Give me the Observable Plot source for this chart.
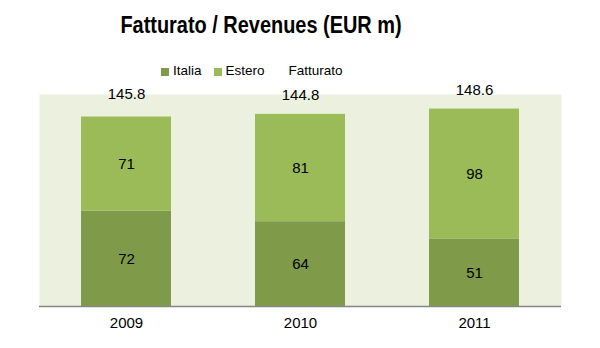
<!DOCTYPE html>
<html>
<head>
<meta charset="utf-8">
<script src="https://cdn.jsdelivr.net/npm/d3@7"></script>
<script src="https://cdn.jsdelivr.net/npm/@observablehq/plot@0.6"></script>
<style>
  html, body { margin: 0; padding: 0; background: #fff; }
  #wrap { position: relative; width: 600px; height: 348px; font-family: "Liberation Sans", Arial, sans-serif; }
  #title { position: absolute; left: -39px; top: 13px; width: 600px; text-align: center; font-family: "Liberation Sans", Arial, sans-serif; font-weight: bold; font-size: 24px; line-height: 24px; color: #000; transform: scaleX(0.83); transform-origin: 300px 0; }
  #legend { position: absolute; left: 161px; top: 64px; display: flex; gap: 12px; font-size: 13.5px; line-height: 14px; color: #000; }
  #legend .item { display: flex; align-items: center; gap: 4px; }
  #legend .sw { width: 8px; height: 8px; margin-top: 1px; }
  #chart { position: absolute; left: 0; top: 78px; }
</style>
</head>
<body>
<div id="wrap">
  <div id="title">Fatturato / Revenues (EUR m)</div>
  <div id="legend"></div>
  <div id="chart"></div>
</div>
<script>
const years = ["2009", "2010", "2011"];
const italia = [72, 64, 51];
const estero = [71, 81, 98];
const fatturato = [145.8, 144.8, 148.6];
const seriesNames = ["Italia", "Estero", "Fatturato"];
const seriesColors = ["#7F9A48", "#9BBB59", "transparent"];

const rows = [
  ...years.map((y, i) => ({year: y, serie: "Italia", value: italia[i]})),
  ...years.map((y, i) => ({year: y, serie: "Estero", value: estero[i]}))
];
const totals = years.map((y, i) => ({year: y, total: fatturato[i]}));

// Legend
const legend = document.getElementById("legend");
seriesNames.forEach((name, i) => {
  const item = document.createElement("div");
  item.className = "item";
  const sw = document.createElement("span");
  sw.className = "sw";
  sw.style.background = seriesColors[i];
  const t = document.createElement("span");
  t.textContent = name;
  item.appendChild(sw);
  item.appendChild(t);
  legend.appendChild(item);
});

const chart = Plot.plot({
  width: 600,
  height: 270,
  marginTop: 16,
  marginBottom: 42,
  marginLeft: 39,
  marginRight: 39,
  style: {fontFamily: "Liberation Sans, Arial, sans-serif", fontSize: "15px", color: "#000", background: "transparent"},
  x: {domain: years, paddingInner: 0.483, paddingOuter: 0.2415, label: null, tickSize: 0, tickPadding: 11},
  y: {domain: [0, 160], axis: null},
  color: {domain: ["Italia", "Estero"], range: ["#7F9A48", "#9BBB59"]},
  marks: [
    Plot.frame({fill: "#EBF1DE", stroke: null}),
    Plot.barY(rows, Plot.stackY({x: "year", y: "value", fill: "serie", order: null})),
    Plot.text(rows, Plot.stackY({x: "year", y: "value", z: "serie", text: d => String(d.value), fill: "#000", fontSize: 15, order: null})),
    Plot.text(totals, {x: "year", y: "total", text: d => d.total.toFixed(1), dy: -19.5, fill: "#000", fontSize: 15}),
    Plot.ruleY([0], {stroke: "#868686", strokeWidth: 1.3})
  ]
});
document.getElementById("chart").appendChild(chart);
</script>
</body>
</html>
